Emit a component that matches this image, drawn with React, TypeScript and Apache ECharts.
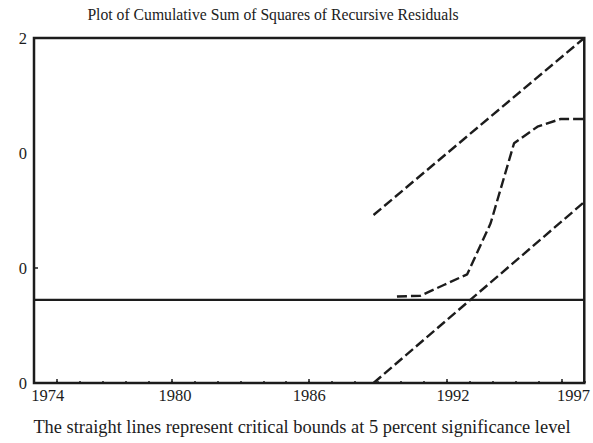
import React, { useEffect, useRef } from "react";
import * as echarts from "echarts";

const titleText = "Plot of Cumulative Sum of Squares of Recursive Residuals";
const footerText = "The straight lines represent critical bounds at 5 percent significance level";

// y tick labels (as printed, bottom to top)
const yTickLabels = ["0", "0", "0", "2"];
const yTickValues = [0, 1, 2, 3];

// x axis labels
const xLabelYears = [1974, 1980, 1986, 1992, 1997];
const xMajorTickYears = [1975, 1980, 1986, 1992, 1997];

// CUSUM of squares
const cusumYears = [1989, 1990, 1991, 1992, 1993, 1994, 1995, 1996, 1997];
const cusumValues = [0.752, 0.759, 0.852, 0.945, 1.389, 2.084, 2.229, 2.296, 2.296];

// 5% critical bounds (straight lines)
const boundYears = [1988, 1997];
const upperBound = [1.461, 3.0];
const lowerBound = [0.0, 1.574];

// reference (zero) line
const refLineYears = [1973.5, 1997];
const refLineValue = 0.722;

const FONT = "Liberation Serif";
const INK = "#1c1c1c";

export default function App() {
  const ref = useRef<HTMLDivElement>(null);
  useEffect(() => {
    if (!ref.current) return;
    const chart = echarts.init(ref.current, undefined, { renderer: "svg" });
    const labelShift = [0.6, 0.15, 0, 0.27, 0.53];
    const dashed = { color: INK, width: 2.4, type: [10, 4] as number[] };
    chart.setOption({
      animation: false,
      backgroundColor: "#ffffff",
      grid: {
        left: 34,
        right: 8.5,
        top: 38,
        bottom: 60,
        show: true,
        borderColor: INK,
        borderWidth: 2.5,
        backgroundColor: "transparent",
      },
      xAxis: [
        {
          type: "value",
          min: 1973.5,
          max: 1997,
          show: false,
        },
        {
          type: "value",
          position: "bottom",
          min: 1974,
          max: 1998,
          interval: 1,
          axisLine: { show: false },
          splitLine: { show: false },
          axisLabel: { show: false },
          axisTick: { show: true, inside: true, length: 2, lineStyle: { color: INK, width: 1.5 } },
        },
        {
          type: "value",
          position: "bottom",
          min: 1974,
          max: 1998,
          axisLine: { show: false },
          splitLine: { show: false },
          axisTick: {
            show: true,
            inside: true,
            length: 4,
            customValues: xMajorTickYears,
            lineStyle: { color: INK, width: 1.5 },
          },
          axisLabel: {
            show: true,
            customValues: xLabelYears.map((y, i) => y + labelShift[i]),
            formatter: (v: number) => String(Math.floor(v)),
            fontFamily: FONT,
            fontSize: 16.5,
            color: INK,
            margin: 4,
          },
        },
      ],
      yAxis: {
        type: "value",
        min: 0,
        max: 3,
        interval: 1,
        axisLine: { show: false },
        splitLine: { show: false },
        axisTick: {
          show: true,
          inside: true,
          length: 4,
          customValues: [1],
          lineStyle: { color: INK, width: 1.5 },
        },
        axisLabel: {
          customValues: yTickValues,
          formatter: (v: number) => yTickLabels[yTickValues.indexOf(Math.round(v))] ?? "",
          fontFamily: FONT,
          fontSize: 16.5,
          color: INK,
          margin: 7,
        },
      },
      graphic: [
        {
          type: "text",
          x: 273,
          y: 14,
          style: {
            text: titleText,
            fontFamily: FONT,
            fontSize: 15.7,
            fill: INK,
            textAlign: "center",
            textVerticalAlign: "middle",
          },
        },
        {
          type: "text",
          x: 302,
          y: 427,
          style: {
            text: footerText,
            fontFamily: FONT,
            fontSize: 18.4,
            fill: INK,
            textAlign: "center",
            textVerticalAlign: "middle",
          },
        },
      ],
      series: [
        {
          type: "line",
          xAxisIndex: 0,
          symbol: "none",
          lineStyle: { color: INK, width: 2.2 },
          data: refLineYears.map((y) => [y, refLineValue]),
          z: 2,
        },
        {
          type: "line",
          xAxisIndex: 0,
          symbol: "none",
          lineStyle: dashed,
          data: boundYears.map((y, i) => [y, upperBound[i]]),
        },
        {
          type: "line",
          xAxisIndex: 0,
          symbol: "none",
          lineStyle: dashed,
          data: boundYears.map((y, i) => [y, lowerBound[i]]),
        },
        {
          type: "line",
          xAxisIndex: 0,
          symbol: "none",
          lineStyle: dashed,
          data: cusumYears.map((y, i) => [y, cusumValues[i]]),
        },
      ],
    });
    return () => chart.dispose();
  }, []);
  return (
    <div
      ref={ref}
      style={{ position: "fixed", left: 0, top: 0, width: 593, height: 443, background: "#fff" }}
    />
  );
}
